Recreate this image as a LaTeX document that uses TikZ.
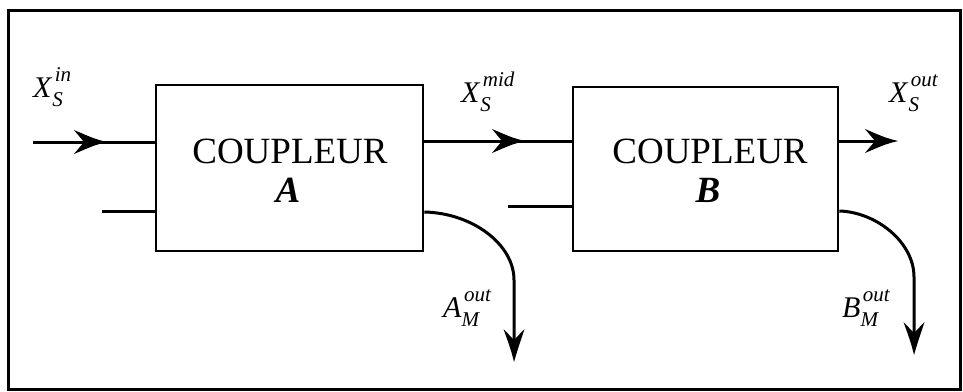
\documentclass[tikz,border=0pt]{standalone}
\usepackage{fontspec}
\setmainfont{Liberation Serif}
\newcommand\scr{\fontsize{21}{21}\selectfont\itshape}
\newcommand\sublbl[3]{\textit{#1}\rlap{\hspace{0.08em}\raisebox{0.52em}{\scr #3}}\raisebox{-0.32em}{\scr #2}}
\newcommand\headright[1]{\fill (#1) .. controls +(-12,-3) .. ++(-33,-12) -- ++(10,12) -- ++(-10,12) .. controls +(21,-9) .. (#1) -- cycle;}
\newcommand\headdown[1]{\fill (#1) .. controls +(-3,-12) .. ++(-10.5,-33) -- ++(10.5,11) -- ++(10.5,-11) .. controls +(-7,21) .. (#1) -- cycle;}
\tikzset{
  wire/.style={line width=3pt},
  boxstyle/.style={draw, line width=2.6pt, inner sep=0pt},
  lbl/.style={anchor=base west, inner sep=0pt, font=\fontsize{30}{30}\selectfont},
  big/.style={anchor=base, inner sep=0pt, font=\fontsize{37}{37}\selectfont}
}
\begin{document}
\begin{tikzpicture}[x=1pt,y=-1pt]
\useasboundingbox (0,0) rectangle (963,391);
\draw[line width=3pt] (8,10) rectangle (960,389);
% boxes
\node[boxstyle, minimum width=267pt, minimum height=166pt] (A) at (289.5,168) {};
\node[boxstyle, minimum width=265pt, minimum height=164pt] (B) at (705.5,169) {};
\node[big] (tA) at (290,163) {COUPLEUR};
\node[big] (lA) at (288,202) {\textbf{\textit{A}}};
\node[big] (tB) at (710,163) {COUPLEUR};
\node[big] (lB) at (708,202) {\textbf{\textit{B}}};
% coordinates
\coordinate (in1) at (33,142);
\coordinate (in1t) at (107,142);
\coordinate (in2) at (102,211);
\coordinate (m1t) at (525,141);
\coordinate (b2) at (508,206);
\coordinate (outt) at (898,141);
\coordinate (aS) at (A.east |- 0,212);
\coordinate (aV) at (514,280);
\coordinate (aE) at (514,345);
\coordinate (aT) at (514,362);
\coordinate (bS) at (B.east |- 0,211);
\coordinate (bV) at (914,277);
\coordinate (bE) at (914,338);
\coordinate (bT) at (914,355);
% wires
\draw[wire] (in1) -- (A.west |- in1);
\headright{in1t}
\draw[wire] (in2) -- (A.west |- in2);
\draw[wire] (A.east |- m1t) -- (B.west |- m1t);
\headright{m1t}
\draw[wire] (b2) -- (B.west |- b2);
\draw[wire] (B.east |- outt) -- ([xshift=-15pt]outt);
\headright{outt}
\draw[wire] (aS) .. controls (472,213) and (514,244) .. (aV) -- (aE);
\headdown{aT}
\draw[wire] (bS) .. controls (876,212) and (914,242) .. (bV) -- (bE);
\headdown{bT}
% labels
\node[lbl] (xin) at (33,97) {\sublbl{X}{S}{in}};
\node[lbl] (xmid) at (461,102) {\sublbl{X}{S}{mid}};
\node[lbl] (xout) at (889,102) {\sublbl{X}{S}{out}};
\node[lbl] (aout) at (443,317) {\sublbl{A}{M}{out}};
\node[lbl] (bout) at (842,317) {\sublbl{B}{M}{out}};
\end{tikzpicture}
\end{document}
